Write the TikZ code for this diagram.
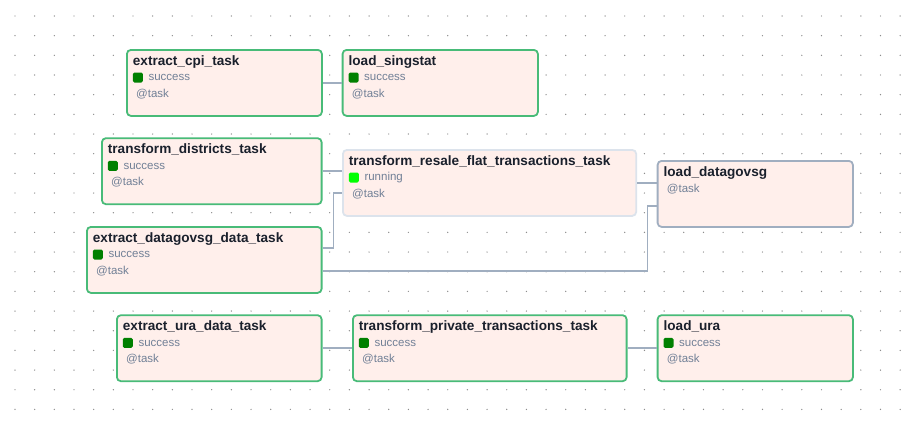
\documentclass[tikz,border=0pt]{standalone}
\usepackage{fontspec}
\setmainfont{Liberation Sans}
\usepackage{tikz}
\usetikzlibrary{calc,positioning}

\definecolor{taskfill}{HTML}{FFEFEB}
\definecolor{okborder}{HTML}{48BB78}
\definecolor{runborder}{HTML}{DCE3EC}
\definecolor{noborder}{HTML}{A0AEC0}
\definecolor{edgecol}{HTML}{A0AEC0}
\definecolor{titlecol}{HTML}{1A202C}
\definecolor{infocol}{HTML}{718096}
\definecolor{okstate}{HTML}{008000}
\definecolor{runstate}{HTML}{00FF00}

\tikzset{
	taskrect/.style={rectangle, fill=taskfill, rounded corners=4pt, line width=1.8pt, minimum height=66pt, anchor=north west, inner sep=0pt},
	tasktitle/.style={anchor=base west, inner sep=0pt, text=titlecol, font=\fontsize{13.6}{16}\selectfont\bfseries},
	taskinfo/.style={anchor=base west, inner sep=0pt, text=infocol, font=\fontsize{11.5}{14}\selectfont},
	statedot/.style={rectangle, rounded corners=1.5pt, minimum size=10pt, inner sep=0pt},
	edge/.style={draw=edgecol, line width=1.6pt},
	griddot/.style={fill=black!45}
}

% name, left, top, width, border, title, state colour, state text
\newcommand{\taskbox}[8]{
	\node[taskrect, draw=#5, minimum width=#4pt] (#1) at (#2,-#3) {};
	\node[tasktitle] (#1_title) at (#2+6.7,-#3-16) {#6};
	\node[statedot, fill=#7] (#1_dot) at (#2+11.8,-#3-28.5) {};
	\node[taskinfo] (#1_state) at (#2+22.3,-#3-31.7) {#8};
	\node[taskinfo] (#1_type) at (#2+10,-#3-48.3) {@task};
}

\begin{document}
\begin{tikzpicture}[x=1pt,y=1pt]
	\fill[white] (0,0) rectangle (902,-426);
	\useasboundingbox (0,0) rectangle (902,-426);

	% background grid
	\foreach \i in {0,...,45}
		\foreach \j in {0,...,20}
			\fill[griddot] ({15+\i*19.67},{-16-\j*19.67}) circle (0.7);

	\taskbox{cpi}{126}{49}{195}{okborder}{extract\_cpi\_task}{okstate}{success}
	\taskbox{singstat}{341.7}{49}{195.3}{okborder}{load\_singstat}{okstate}{success}
	\taskbox{districts}{101}{137.3}{219.7}{okborder}{transform\_districts\_task}{okstate}{success}
	\taskbox{dgs}{86}{226}{234.7}{okborder}{extract\_datagovsg\_data\_task}{okstate}{success}
	\taskbox{resale}{342}{149}{293.3}{runborder}{transform\_resale\_flat\_transactions\_task}{runstate}{running}
	\taskbox{ura}{116}{314.3}{204.7}{okborder}{extract\_ura\_data\_task}{okstate}{success}
	\taskbox{private}{352}{314.3}{273.7}{okborder}{transform\_private\_transactions\_task}{okstate}{success}
	\taskbox{loadura}{656.7}{314.3}{195.3}{okborder}{load\_ura}{okstate}{success}

	% no state yet
	\node[taskrect, draw=noborder, minimum width=195.3pt] (loaddgs) at (656.7,-160) {};
	\node[tasktitle] (loaddgs_title) at (663.4,-176) {load\_datagovsg};
	\node[taskinfo] (loaddgs_type) at (666.7,-192.3) {@task};

	\draw[edge] (cpi.east) -- (singstat.west);
	\draw[edge] (districts.east) -- (districts.east -| resale.west);
	\draw[edge] ([yshift=12pt]dgs.east) -- ++(11,0) |- ([yshift=-10pt]resale.west);
	\draw[edge] ([yshift=-11pt]dgs.east) -- ++(325,0) |- ([yshift=-12pt]loaddgs.west);
	\draw[edge] (resale.east) -- (resale.east -| loaddgs.west);
	\draw[edge] (ura.east) -- (private.west);
	\draw[edge] (private.east) -- (loadura.west);
\end{tikzpicture}
\end{document}
